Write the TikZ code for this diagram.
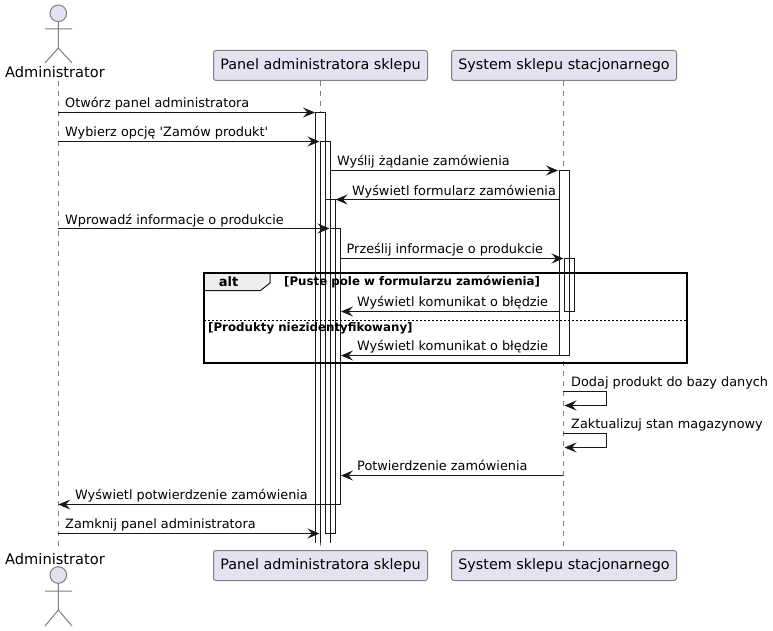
\documentclass[tikz,border=0pt]{standalone}
\usepackage{fontspec}
\setmainfont[Ligatures=TeXOff]{DejaVu Sans}
\usetikzlibrary{arrows.meta}
\definecolor{headfill}{HTML}{E2E2F0}
\definecolor{headline}{HTML}{7F7F7F}
\definecolor{ink}{HTML}{181818}
\definecolor{tabfill}{HTML}{EEEEEE}
\tikzset{
  part/.style={draw=headline,fill=headfill,rounded corners=2.5pt,line width=1pt,minimum height=30pt,inner sep=0pt,font=\fontsize{14.35pt}{16pt}\selectfont,text=black},
  actorlabel/.style={inner sep=0pt,anchor=base,font=\fontsize{14.6pt}{16pt}\selectfont,text=black},
  lifeline/.style={draw=headline,line width=1pt,dash pattern=on 5pt off 5pt},
  actorline/.style={draw=headline,line width=1pt},
  bar/.style={draw=ink,line width=1pt},
  msg/.style={draw=ink,line width=1pt,-{Stealth[length=12pt,width=10pt,inset=4.5pt]}},
  msgtext/.style={inner sep=0pt,anchor=base west,font=\fontsize{12.85pt}{14pt}\selectfont,text=black},
  guard/.style={inner sep=0pt,anchor=base west,font=\fontsize{11.8pt}{13pt}\selectfont\bfseries,text=black},
}
\begin{document}
\begin{tikzpicture}[x=1pt,y=-1pt]
\useasboundingbox (0,0) rectangle (773,631);
\fill[white] (0,0) rectangle (773,631);
% lifelines
\coordinate (atop) at (58.3,81); \coordinate (abot) at (58.3,546);
\coordinate (ptop) at (320.5,81); \coordinate (pbot) at (320.5,546);
\coordinate (stop) at (563.2,81); \coordinate (sbot) at (563.2,546);
\draw[lifeline] (atop) -- (abot);
\draw[lifeline] (ptop) -- (pbot);
\draw[lifeline] (stop) -- (sbot);
% activation fills
\fill[white] (315.5,112.5) rectangle (340.5,543);
\fill[white] (559.2,170.5) rectangle (569.2,355.5);
\fill[white] (569.2,258.5) rectangle (574.2,311.5);
% activation bars
\draw[bar] (315.5,543) -- (315.5,112.5) -- (325.5,112.5) -- (325.5,533.5);
\draw[bar] (320.5,543) -- (320.5,141.5) -- (330.5,141.5) -- (330.5,543);
\draw[bar] (325.5,199.5) rectangle (335.5,533.5);
\draw[bar] (330.5,228.5) rectangle (340.5,504.5);
\draw[bar] (559.2,170.5) rectangle (569.2,355.5);
\draw[bar] (564.2,258.5) rectangle (574.2,311.5);
% alt frame
\fill[tabfill] (203.5,272.7) -- (270,272.7) -- (270,283) -- (260.5,290.5) -- (203.5,290.5) -- cycle;
\draw[ink,line width=1pt] (203.5,290.5) -- (260.5,290.5) -- (270,283) -- (270,272.7);
\draw[black,line width=2pt] (203.5,272.7) rectangle (686.7,363);
\draw[black,line width=1pt,dash pattern=on 2pt off 2pt] (203.5,320) -- (686.7,320);
\node[inner sep=0pt,anchor=base,font=\fontsize{13pt}{15pt}\selectfont\bfseries] (alt) at (228.5,286.5) {alt};
\node[guard] (g1) at (284,285) {[Puste pole w formularzu zamówienia]};
\node[guard] (g2) at (208,331) {[Produkty niezidentyfikowany]};
% participants
\node[part,minimum width=214pt] (p1) at (320.5,65.5) {Panel administratora sklepu};
\node[part,minimum width=225pt] (s1) at (564,65.5) {System sklepu stacjonarnego};
\node[part,minimum width=214pt] (p2) at (320.5,565.5) {Panel administratora sklepu};
\node[part,minimum width=225pt] (s2) at (564,565.5) {System sklepu stacjonarnego};
% actors
\node[actorlabel] (a1) at (55,78) {Administrator};
\node[actorlabel] (a2) at (55,564) {Administrator};
\draw[actorline,fill=headfill] (58.3,13.3) circle (8.3pt);
\draw[actorline] (58.3,21.6) -- (58.3,48) (45,29) -- (72,29) (45,63) -- (58.3,48) -- (72,63);
\draw[actorline,fill=headfill] (58.3,575) circle (8.3pt);
\draw[actorline] (58.3,583.3) -- (58.3,610) (45,591) -- (72,591) (45,626) -- (58.3,610) -- (72,626);
% messages
\coordinate (a) at (58.3,0);
\coordinate (b1) at (315,0); \coordinate (b2) at (319.5,0); \coordinate (b3) at (329.5,0);
\coordinate (c1) at (331,0); \coordinate (c2) at (335.5,0); \coordinate (c3) at (341,0);
\coordinate (d1) at (559,0); \coordinate (d2) at (564.5,0); \coordinate (d3) at (606.7,0);
\draw[msg] (a|-0,112.5) -- (b1|-0,112.5);
\node[msgtext] at (65,107.5) {Otwórz panel administratora};
\draw[msg] (a|-0,141.5) -- (b2|-0,141.5);
\node[msgtext] at (65,136.5) {Wybierz opcję 'Zamów produkt'};
\draw[msg] (c1|-0,170.5) -- (558,170.5);
\node[msgtext] at (337,165.5) {Wyślij żądanie zamówienia};
\draw[msg] (d1|-0,199.5) -- (c2|-0,199.5);
\node[msgtext] at (352,195) {Wyświetl formularz zamówienia};
\draw[msg] (a|-0,228.5) -- (b3|-0,228.5);
\node[msgtext] at (65,224) {Wprowadź informacje o produkcie};
\draw[msg] (340.5,258.5) -- (563.5,258.5);
\node[msgtext] at (346.5,253.5) {Prześlij informacje o produkcie};
\draw[msg] (d1|-0,311.5) -- (c3|-0,311.5);
\node[msgtext] at (357,306.5) {Wyświetl komunikat o błędzie};
\draw[msg] (d1|-0,355.5) -- (c3|-0,355.5);
\node[msgtext] at (357,350.5) {Wyświetl komunikat o błędzie};
\draw[msg] (563.2,391.5) -- (d3|-0,391.5) -- (d3|-0,405.5) -- (d2|-0,405.5);
\node[msgtext] at (571,386.5) {Dodaj produkt do bazy danych};
\draw[msg] (563.2,433.5) -- (d3|-0,433.5) -- (d3|-0,447.5) -- (d2|-0,447.5);
\node[msgtext] at (571,428.5) {Zaktualizuj stan magazynowy};
\draw[msg] (563.2,475.5) -- (c3|-0,475.5);
\node[msgtext] at (357,470.5) {Potwierdzenie zamówienia};
\draw[msg] (330,504.5) -- (a|-0,504.5);
\node[msgtext] at (75,499.5) {Wyświetl potwierdzenie zamówienia};
\draw[msg] (a|-0,533.5) -- (b2|-0,533.5);
\node[msgtext] at (65,528.5) {Zamknij panel administratora};
\end{tikzpicture}
\end{document}
